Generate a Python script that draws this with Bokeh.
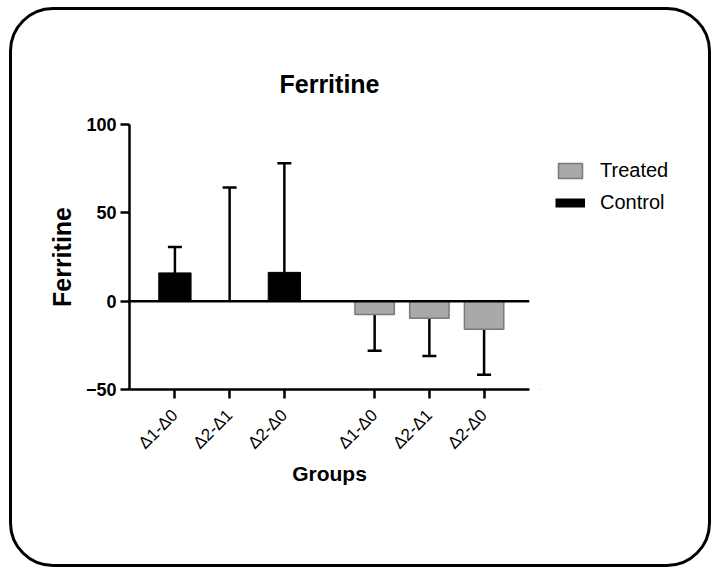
from math import pi
from bokeh.plotting import figure
from bokeh.layouts import row
from bokeh.models import (ColumnDataSource, FactorRange, Whisker, TeeHead, Span,
                          FixedTicker, Legend, LegendItem, Range1d)
from bokeh.embed import file_html
from bokeh.resources import INLINE

# ---- data ----
groups = ["Δ1-Δ0", "Δ2-Δ1", "Δ2-Δ0"]
control_mean = [16.0, 0.0, 16.3]
control_sd = [14.7, 64.4, 61.7]
treated_mean = [-7.6, -9.7, -15.9]
treated_sd = [20.4, 21.3, 25.7]
y_ticks = [-50, 0, 50, 100]

FONT = "Liberation Sans"
TREATED_FILL = "#a9a9a9"
TREATED_LINE = "#7a7a7a"

c_x = [("Control", g) for g in groups]
t_x = [("Treated", g) for g in groups]

src_c = ColumnDataSource(dict(
    x=c_x, mean=control_mean,
    upper=[m + s for m, s in zip(control_mean, control_sd)]))
src_t = ColumnDataSource(dict(
    x=t_x, mean=treated_mean,
    lower=[m - s for m, s in zip(treated_mean, treated_sd)]))

xr = FactorRange(*(c_x + t_x), factor_padding=0.0, group_padding=0.65,
                 range_padding=0.33, range_padding_units="absolute")

p = figure(width=531, height=560, x_range=xr, y_range=(-50, 100),
           output_backend="svg", toolbar_location=None,
           min_border_left=120, min_border_right=11,
           min_border_top=117, min_border_bottom=178,
           title="Ferritine")

p.border_fill_color = None
p.background_fill_color = None
p.outline_line_color = None
p.xgrid.grid_line_color = None
p.ygrid.grid_line_color = None

p.title.align = "center"
p.title.text_font = FONT
p.title.text_font_size = "25px"
p.title.text_font_style = "bold"
p.title.text_color = "black"
p.title.standoff = 54

# bars
r_t = p.vbar(x="x", top=0, bottom="mean", width=0.72, source=src_t,
             fill_color=TREATED_FILL, line_color=TREATED_LINE, line_width=1.5)
r_c = p.vbar(x="x", top="mean", bottom=0, width=0.59, source=src_c,
             fill_color="black", line_color="black")

p.add_layout(Span(location=0, dimension="width", line_color="black",
                  line_width=2.5))

p.add_layout(Whisker(source=src_c, base="x", upper="upper", lower="mean",
                     dimension="height", line_width=2.5, line_color="black",
                     upper_head=TeeHead(size=14, line_width=2.5, line_color="black"),
                     lower_head=None))
p.add_layout(Whisker(source=src_t, base="x", upper="mean", lower="lower",
                     dimension="height", line_width=2.5, line_color="black",
                     lower_head=TeeHead(size=14, line_width=2.5, line_color="black"),
                     upper_head=None))

# axes
for ax in (p.xaxis[0], p.yaxis[0]):
    ax.axis_line_width = 2.5
    ax.axis_line_color = "black"
    ax.major_tick_line_width = 2.5
    ax.major_tick_line_color = "black"
    ax.major_tick_out = 9
    ax.major_tick_in = 0
    ax.minor_tick_line_color = None
    ax.axis_label_text_font = FONT
    ax.axis_label_text_font_style = "bold"
    ax.axis_label_text_color = "black"
    ax.major_label_text_font = FONT
    ax.major_label_text_color = "black"

p.yaxis.ticker = FixedTicker(ticks=y_ticks, minor_ticks=[])
p.yaxis.axis_label = "Ferritine"
p.yaxis.axis_label_text_font_size = "25px"
p.yaxis.axis_label_standoff = 7
p.yaxis.major_label_text_font_size = "18px"
p.yaxis.major_label_text_font_style = "bold"
p.yaxis.major_label_standoff = 4

p.xaxis.axis_label = "Groups"
p.xaxis.axis_label_text_font_size = "21px"
p.xaxis.axis_label_standoff = 0
p.xaxis.major_label_orientation = pi / 4
p.xaxis.major_label_text_font_size = "17px"
p.xaxis.major_label_standoff = 14
p.xaxis.group_text_color = None
p.xaxis.group_text_font_size = "1px"
p.xaxis.separator_line_color = None

# legend panel (separate figure to the right of the axes); same top/bottom
# borders as the main figure so the row keeps the main frame where it is
pl = figure(width=171, height=560, x_range=Range1d(0, 1), y_range=Range1d(0, 1),
            x_axis_location=None, y_axis_location=None,
            min_border_left=0, min_border_top=117,
            min_border_right=0, min_border_bottom=178,
            output_backend="svg", toolbar_location=None)
pl.border_fill_color = None
pl.background_fill_color = None
pl.outline_line_color = None
pl.xgrid.grid_line_color = None
pl.ygrid.grid_line_color = None
# legend-only renderers: one dummy row placed outside this panel's ranges,
# so only their legend swatches are visible
legend_src = ColumnDataSource(dict(x=[-5.0], y=[-5.0]))
lt = pl.vbar(x="x", top="y", bottom="y", width=0.5, source=legend_src,
             fill_color=TREATED_FILL, line_color=TREATED_LINE, line_width=1.5)
lc = pl.line(x="x", y="y", source=legend_src, line_color="black", line_width=9)

legend = Legend(items=[LegendItem(label="Treated", renderers=[lt]),
                       LegendItem(label="Control", renderers=[lc])],
                location="top_left", glyph_width=30, glyph_height=19,
                label_standoff=15, spacing=9, padding=0, margin=15,
                title=" ", title_text_font_size="1px", title_standoff=19,
                border_line_color=None, background_fill_color=None,
                label_text_font=FONT, label_text_font_size="20px",
                label_text_color="black")
pl.add_layout(legend)

layout = row(p, pl)
layout.styles = {"outline": "3px solid black", "outline-offset": "-3px",
                 "border-radius": "44px", "margin-left": "9px",
                 "margin-top": "7px"}

open("out.html", "w").write(file_html(layout, INLINE))
